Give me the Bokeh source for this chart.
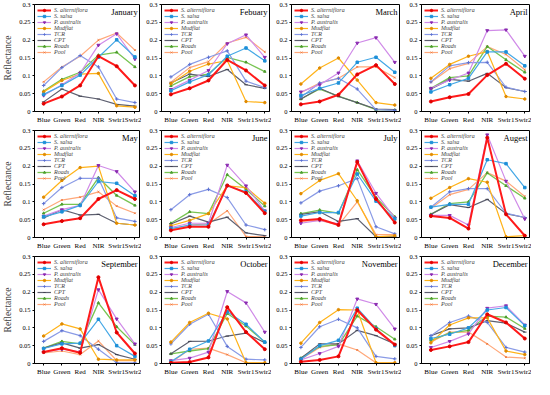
from bokeh.plotting import figure
from bokeh.layouts import gridplot
from bokeh.models import Range1d, FixedTicker, CustomJSTickFormatter, Legend, LegendItem, Label
from bokeh.embed import file_html
from bokeh.resources import INLINE

MONTHS = ["January", "Febuary", "March", "April", "May", "June",
          "July", "Augest", "September", "October", "November", "December"]
BANDS = ["Blue", "Green", "Red", "NIR", "Swir1", "Swir2"]
CLASSES = ["S. alterniflora", "S. salsa", "P. australis", "Mudflat", "TCR", "CPT", "Roads", "Pool"]
Y_TICKS = [0, 0.05, 0.1, 0.15, 0.2, 0.25, 0.3]

# reflectance per class: one row of 6 bands per month (Jan..Dec)
S_ALTERNIFLORA = [
    [0.022, 0.042, 0.073, 0.155, 0.127, 0.073],
    [0.048, 0.065, 0.087, 0.145, 0.115, 0.073],
    [0.020, 0.028, 0.047, 0.104, 0.130, 0.077],
    [0.028, 0.040, 0.049, 0.102, 0.134, 0.092],
    [0.037, 0.046, 0.054, 0.108, 0.133, 0.108],
    [0.020, 0.030, 0.030, 0.146, 0.125, 0.068],
    [0.048, 0.052, 0.035, 0.212, 0.108, 0.042],
    [0.060, 0.055, 0.025, 0.280, 0.065, 0.005],
    [0.032, 0.043, 0.030, 0.242, 0.087, 0.028],
    [0.002, 0.004, 0.017, 0.158, 0.088, 0.040],
    [0.005, 0.010, 0.020, 0.150, 0.095, 0.053],
    [0.038, 0.048, 0.060, 0.138, 0.115, 0.070],
]
S_SALSA = [
    [0.048, 0.073, 0.102, 0.152, 0.201, 0.153],
    [0.058, 0.083, 0.103, 0.155, 0.178, 0.142],
    [0.045, 0.065, 0.080, 0.138, 0.152, 0.110],
    [0.055, 0.075, 0.093, 0.167, 0.167, 0.128],
    [0.058, 0.072, 0.090, 0.157, 0.152, 0.117],
    [0.025, 0.035, 0.035, 0.145, 0.128, 0.073],
    [0.060, 0.070, 0.070, 0.178, 0.102, 0.052],
    [0.085, 0.093, 0.093, 0.218, 0.207, 0.140],
    [0.042, 0.055, 0.057, 0.124, 0.050, 0.020],
    [0.005, 0.040, 0.063, 0.145, 0.110, 0.060],
    [0.012, 0.050, 0.065, 0.155, 0.098, 0.050],
    [0.070, 0.082, 0.100, 0.150, 0.157, 0.106],
]
P_AUSTRALIS = [
    [0.045, 0.075, 0.108, 0.186, 0.218, 0.147],
    [0.062, 0.088, 0.115, 0.190, 0.215, 0.152],
    [0.055, 0.075, 0.108, 0.192, 0.207, 0.138],
    [0.065, 0.088, 0.108, 0.227, 0.229, 0.155],
    [0.060, 0.078, 0.090, 0.202, 0.185, 0.128],
    [0.028, 0.040, 0.040, 0.203, 0.145, 0.075],
    [0.040, 0.048, 0.038, 0.215, 0.124, 0.055],
    [0.062, 0.062, 0.035, 0.288, 0.158, 0.052],
    [0.032, 0.040, 0.033, 0.207, 0.125, 0.055],
    [0.008, 0.015, 0.032, 0.202, 0.170, 0.088],
    [0.010, 0.028, 0.048, 0.181, 0.166, 0.097],
    [0.045, 0.062, 0.083, 0.155, 0.162, 0.108],
]
MUDFLAT = [
    [0.055, 0.087, 0.105, 0.107, 0.016, 0.012],
    [0.078, 0.113, 0.133, 0.143, 0.028, 0.025],
    [0.077, 0.122, 0.150, 0.088, 0.025, 0.018],
    [0.093, 0.132, 0.155, 0.168, 0.042, 0.035],
    [0.113, 0.160, 0.196, 0.200, 0.040, 0.035],
    [0.033, 0.048, 0.067, 0.145, 0.140, 0.096],
    [0.123, 0.160, 0.179, 0.103, 0.002, 0.005],
    [0.110, 0.140, 0.165, 0.155, 0.002, 0.005],
    [0.077, 0.111, 0.097, 0.012, 0.010, 0.010],
    [0.060, 0.115, 0.141, 0.125, 0.002, 0.002],
    [0.057, 0.115, 0.151, 0.150, 0.002, 0.002],
    [0.058, 0.108, 0.128, 0.128, 0.035, 0.025],
]
TCR = [
    [0.073, 0.123, 0.157, 0.125, 0.035, 0.025],
    [0.097, 0.132, 0.152, 0.170, 0.085, 0.067],
    [0.040, 0.080, 0.093, 0.063, 0.005, 0.003],
    [0.083, 0.128, 0.137, 0.138, 0.068, 0.056],
    [0.095, 0.140, 0.166, 0.166, 0.055, 0.045],
    [0.078, 0.120, 0.135, 0.112, 0.035, 0.022],
    [0.097, 0.130, 0.145, 0.165, 0.030, 0.010],
    [0.085, 0.128, 0.137, 0.137, 0.068, 0.056],
    [0.062, 0.092, 0.078, 0.040, 0.002, 0.002],
    [0.055, 0.110, 0.138, 0.048, 0.012, 0.010],
    [0.045, 0.103, 0.124, 0.100, 0.020, 0.013],
    [0.078, 0.115, 0.133, 0.115, 0.045, 0.032],
]
CPT = [
    [0.027, 0.063, 0.043, 0.035, 0.020, 0.015],
    [0.080, 0.105, 0.098, 0.118, 0.075, 0.065],
    [0.035, 0.065, 0.042, 0.025, 0.007, 0.005],
    [0.063, 0.090, 0.085, 0.107, 0.067, 0.056],
    [0.055, 0.078, 0.063, 0.065, 0.040, 0.035],
    [0.038, 0.060, 0.043, 0.057, 0.013, 0.005],
    [0.065, 0.072, 0.045, 0.053, 0.002, 0.002],
    [0.065, 0.092, 0.084, 0.107, 0.067, 0.056],
    [0.043, 0.058, 0.043, 0.053, 0.025, 0.012],
    [0.027, 0.062, 0.063, 0.077, 0.085, 0.058],
    [0.015, 0.055, 0.055, 0.093, 0.078, 0.055],
    [0.078, 0.097, 0.100, 0.120, 0.113, 0.088],
]
ROADS = [
    [0.057, 0.090, 0.110, 0.158, 0.166, 0.125],
    [0.072, 0.098, 0.105, 0.152, 0.138, 0.112],
    [0.035, 0.063, 0.043, 0.025, 0.005, 0.004],
    [0.065, 0.095, 0.100, 0.182, 0.145, 0.110],
    [0.068, 0.093, 0.093, 0.168, 0.118, 0.090],
    [0.040, 0.072, 0.067, 0.176, 0.135, 0.088],
    [0.067, 0.077, 0.068, 0.190, 0.112, 0.058],
    [0.065, 0.095, 0.100, 0.181, 0.145, 0.110],
    [0.043, 0.062, 0.055, 0.170, 0.103, 0.053],
    [0.027, 0.035, 0.042, 0.140, 0.105, 0.060],
    [0.015, 0.048, 0.052, 0.133, 0.103, 0.068],
    [0.065, 0.085, 0.093, 0.133, 0.130, 0.098],
]
POOL = [
    [0.083, 0.125, 0.155, 0.200, 0.220, 0.172],
    [0.082, 0.123, 0.140, 0.192, 0.208, 0.167],
    [0.053, 0.080, 0.093, 0.125, 0.125, 0.095],
    [0.082, 0.120, 0.135, 0.182, 0.160, 0.117],
    [0.078, 0.105, 0.113, 0.128, 0.088, 0.068],
    [0.022, 0.035, 0.038, 0.075, 0.003, 0.002],
    [0.045, 0.048, 0.035, 0.100, 0.008, 0.008],
    [0.082, 0.120, 0.135, 0.182, 0.158, 0.115],
    [0.030, 0.035, 0.025, 0.063, 0.008, 0.008],
    [0.002, 0.040, 0.043, 0.025, 0.002, 0.002],
    [0.012, 0.045, 0.055, 0.038, 0.002, 0.002],
    [0.060, 0.088, 0.088, 0.055, 0.018, 0.015],
]

SERIES = [S_ALTERNIFLORA, S_SALSA, P_AUSTRALIS, MUDFLAT, TCR, CPT, ROADS, POOL]
LINE_COLORS = ["#FF1A1A", "#45A8E6", "#D08BE8", "#FFB31A", "#8A9BE6", "#5E6070", "#78C452", "#FFA87A"]
MARK_COLORS = ["#E00000", "#1E90D8", "#8A2BB0", "#E08A00", "#5A6FD0", "#404050", "#4E9E2E", "#F07A40"]
MARKERS = ["circle", "square", "inverted_triangle", "circle", "cross", "dash", "triangle", "x"]
MARK_SIZES = [3, 2.5, 3, 2.5, 3.5, 3.5, 2.5, 2.5]
LINE_WIDTHS = [2, 1.2, 1.2, 1.2, 1.2, 1.2, 1.3, 1.2]

FONT = "Liberation Serif"
FRAME_W, FRAME_H = 108, 107
x = list(range(len(BANDS)))

figs = []
for m, month in enumerate(MONTHS):
    col = m % 4
    left = 31 if col == 0 else 20
    p = figure(width=left + FRAME_W + 2, height=4 + FRAME_H + 15,
               x_range=Range1d(-0.5, 5.25), y_range=Range1d(0, 0.3),
               output_backend="svg", toolbar_location=None,
               min_border_left=left, min_border_right=2,
               min_border_top=4, min_border_bottom=15)
    p.grid.visible = False
    p.outline_line_color = "black"
    p.outline_line_width = 1
    p.background_fill_color = "white"

    items = []
    rends = {}
    for k in reversed(range(len(SERIES))):
        ys = SERIES[k][m]
        ln = p.line(x, ys, line_color=LINE_COLORS[k], line_width=LINE_WIDTHS[k])
        sc = p.scatter(x, ys, marker=MARKERS[k], size=MARK_SIZES[k],
                       line_color=MARK_COLORS[k], fill_color=MARK_COLORS[k], line_width=1)
        rends[k] = [ln, sc]
    for k in range(len(SERIES)):
        items.append(LegendItem(label=CLASSES[k], renderers=rends[k]))
    leg = Legend(items=items, location="top_left", margin=1, padding=2,
                 spacing=0, glyph_width=14, glyph_height=6, label_height=6,
                 label_standoff=3, label_text_font=FONT, label_text_font_size="6px",
                 label_text_font_style="italic", background_fill_alpha=0,
                 border_line_alpha=0, label_text_line_height=1.0)
    p.add_layout(leg)

    p.add_layout(Label(x=5.15, y=0.292, text=month, text_align="right", text_baseline="top",
                       text_font=FONT, text_font_size="8.5px", text_color="black"))

    p.xaxis.ticker = FixedTicker(ticks=x)
    p.xaxis.major_label_overrides = {i: b for i, b in enumerate(BANDS)}
    p.yaxis.ticker = FixedTicker(ticks=Y_TICKS)
    p.yaxis.formatter = CustomJSTickFormatter(code="return tick.toString();")
    for ax in (p.xaxis[0], p.yaxis[0]):
        ax.axis_line_color = "black"
        ax.major_tick_line_color = "black"
        ax.major_tick_out = 2
        ax.major_tick_in = 0
        ax.minor_tick_line_color = None
        ax.major_label_text_font = FONT
        ax.major_label_text_color = "black"
        ax.major_label_standoff = 2
    p.xaxis.major_label_text_font_size = "7px"
    p.yaxis.major_label_text_font_size = "6.5px"
    if col == 0:
        p.yaxis.axis_label = "Reflectance"
        p.yaxis.axis_label_text_font = FONT
        p.yaxis.axis_label_text_font_size = "9.5px"
        p.yaxis.axis_label_text_font_style = "normal"
        p.yaxis.axis_label_standoff = 3
    figs.append(p)

grid = gridplot(figs, ncols=4, toolbar_location=None)
open("out.html", "w").write(file_html(grid, INLINE))
